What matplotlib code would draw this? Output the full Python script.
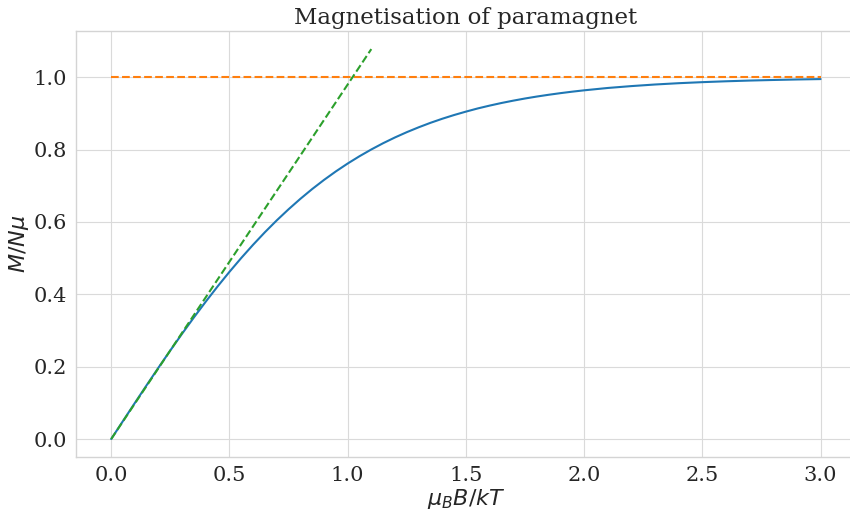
import matplotlib
matplotlib.use("Agg")
import matplotlib.pyplot as plt
import seaborn as sns

# Data
x_curve = [0.0, 0.05, 0.1, 0.15, 0.2, 0.25, 0.3, 0.35, 0.4, 0.45, 0.5,
           0.55, 0.6, 0.65, 0.7, 0.75, 0.8, 0.85, 0.9, 0.95, 1.0,
           1.05, 1.1, 1.15, 1.2, 1.25, 1.3, 1.35, 1.4, 1.45, 1.5,
           1.55, 1.6, 1.65, 1.7, 1.75, 1.8, 1.85, 1.9, 1.95, 2.0,
           2.1, 2.2, 2.3, 2.4, 2.5, 2.6, 2.7, 2.8, 2.9, 3.0]
m_curve = [0.0, 0.0500, 0.0997, 0.1489, 0.1974, 0.2449, 0.2913, 0.3364, 0.3799, 0.4219, 0.4621,
           0.5005, 0.5370, 0.5717, 0.6044, 0.6351, 0.6640, 0.6911, 0.7163, 0.7398, 0.7616,
           0.7818, 0.8005, 0.8178, 0.8337, 0.8483, 0.8617, 0.8741, 0.8854, 0.8957, 0.9051,
           0.9139, 0.9217, 0.9289, 0.9354, 0.9414, 0.9468, 0.9517, 0.9562, 0.9603, 0.9640,
           0.9705, 0.9757, 0.9801, 0.9837, 0.9866, 0.9890, 0.9910, 0.9926, 0.9940, 0.9951]
x_sat = [0.0, 3.0]
m_sat = [1.0, 1.0]
x_lin = [0.0, 1.1]
m_lin = [0.0, 1.078]

sns.set_theme(style="whitegrid")
plt.rcParams['font.family'] = ['DejaVu Serif']
plt.rcParams['mathtext.fontset'] = 'dejavusans'

fig = plt.figure(figsize=(8.5, 5.15), dpi=100)
ax = fig.add_axes([0.0891, 0.112, 0.918, 0.8278])

ax.plot(x_curve, m_curve, color='#1f77b4', lw=1.5)
ax.plot(x_sat, m_sat, color='#ff7f0e', lw=1.5, ls='--')
ax.plot(x_lin, m_lin, color='#2ca02c', lw=1.5, ls='--')

ax.set_xlim(-0.15, 3.15)
ax.set_ylim(-0.0506, 1.128)
ax.set_xticks([0.0, 0.5, 1.0, 1.5, 2.0, 2.5, 3.0])
ax.set_yticks([0.0, 0.2, 0.4, 0.6, 0.8, 1.0])
ax.grid(True, color='#dadada', lw=0.8)
ax.tick_params(labelsize=15, colors='#262626', length=0, pad=6)
ax.set_xlabel(r'$\mu_B B/kT$', fontsize=16, color='#262626', labelpad=2)
ax.set_ylabel(r'$M/N\mu$', fontsize=16, color='#262626', labelpad=2)
ax.set_title('Magnetisation of paramagnet', fontsize=16.5, color='#262626', pad=5)
for s in ax.spines.values():
    s.set_color('#d4d4d4')
    s.set_linewidth(1.0)
ax.spines['right'].set_visible(False)

fig.savefig('out.png', dpi=100)
